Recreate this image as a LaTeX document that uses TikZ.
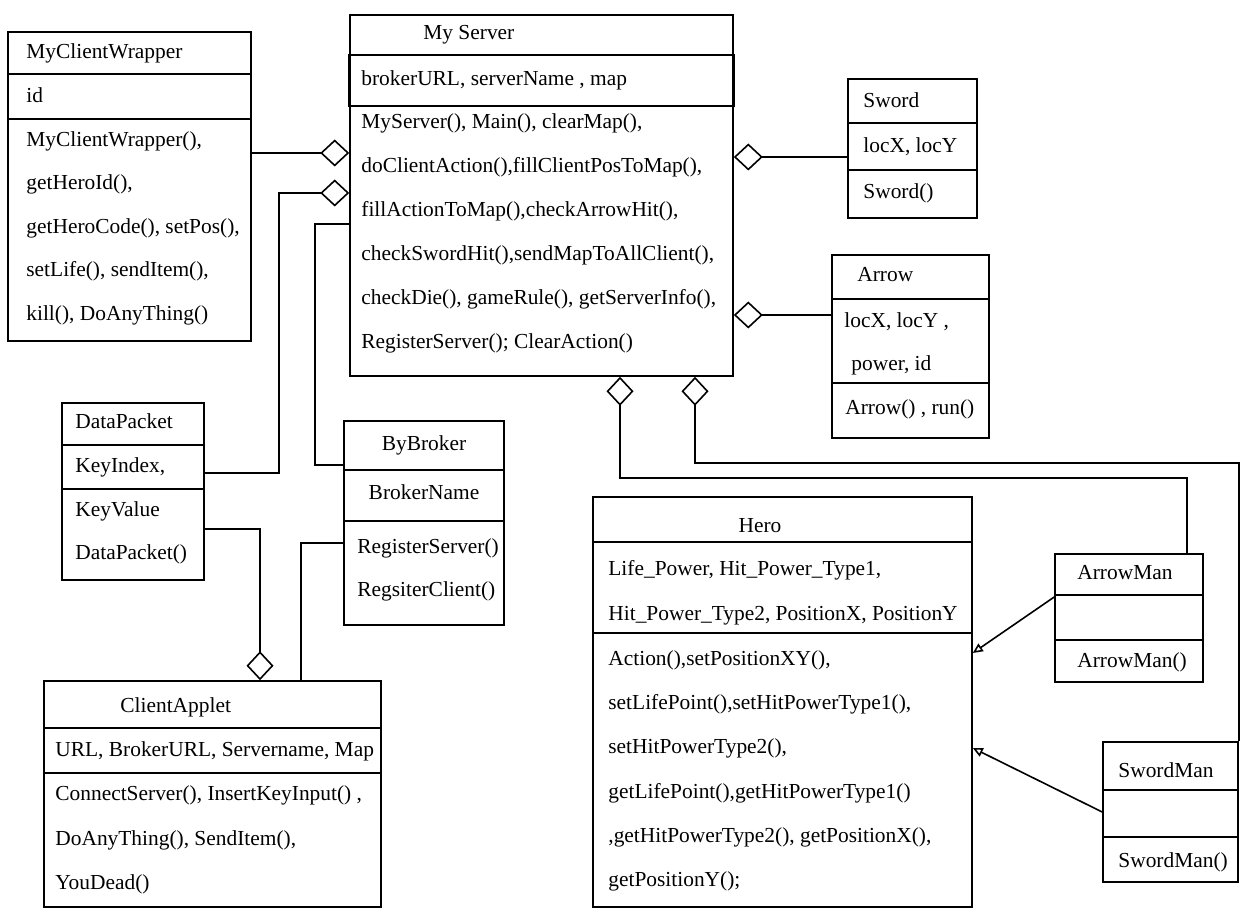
\documentclass[tikz,border=0pt]{standalone}
\usepackage{fontspec}
\setmainfont{Liberation Serif}
\usetikzlibrary{arrows.meta}
\usetikzlibrary{fit}

\begin{document}
\begin{tikzpicture}[x=0.5pt, y=-0.5pt,
cls/.style={draw, line width=0.8pt, inner sep=0pt},
txt/.style={anchor=west, inner sep=0pt, text height=7.5pt, text depth=2pt},
sep/.style={line width=0.8pt},
agg/.style={line width=0.8pt, {Diamond[open,length=14.5pt,width=13.5pt]}-},
gen/.style={line width=0.8pt, -{Triangle[open,length=5pt,width=4.5pt]}},
font=\fontsize{10.7}{12}\selectfont]

\useasboundingbox (0,0) rectangle (1240,908);

% CLASS BOXES
\node[cls, fit={(8,32) (251,341)}] (mcw) {};
\node[cls, fit={(350,15) (733,376)}] (srv) {};
\node[cls, fit={(848,79) (977,218)}] (sw) {};
\node[cls, fit={(832,255) (989,438)}] (ar) {};
\node[cls, fit={(62,403) (204,580)}] (dp) {};
\node[cls, fit={(344,421) (504,625)}] (bb) {};
\node[cls, fit={(44,681) (381,907)}] (ca) {};
\node[cls, fit={(593,497) (972,907)}] (hero) {};
\node[cls, fit={(1055,554) (1203,682)}] (am) {};
\node[cls, fit={(1103,742) (1238,882)}] (sm) {};

% compartments
\foreach \b/\y in {mcw/74, mcw/119, sw/123, sw/170, ar/299, ar/383, dp/445, dp/489,
  bb/470, bb/521, ca/728, ca/773, hero/542, hero/633, am/595, am/640, sm/790, sm/837}{
    \draw[sep] (\b.west |- 0,\y) -- (\b.east |- 0,\y);
}
\draw[line width=1.4pt] (srv.west |- 0,55) rectangle (srv.east |- 0,106);

% MyClientWrapper
\node[txt] (mcwT) at (26,53) {MyClientWrapper};
\node[txt] (mcwA) at (26,97) {id};
\foreach \t [count=\i] in {{MyClientWrapper(),}, {getHeroId(),}, {getHeroCode(), setPos(),},
  {setLife(), sendItem(),}, {kill(), DoAnyThing()}}{
    \node[txt] (mcwM\i) at (26,{141+43.5*(\i-1)}) {\t};
}

% My Server
\node[txt] (srvT) at (423,34) {My Server};
\node[txt] (srvA) at (361,80) {brokerURL, serverName , map};
\foreach \t [count=\i] in {{MyServer(), Main(), clearMap(),}, {doClientAction(),fillClientPosToMap(),},
  {fillActionToMap(),checkArrowHit(),}, {checkSwordHit(),sendMapToAllClient(),},
  {checkDie(), gameRule(), getServerInfo(),}, {RegisterServer(); ClearAction()}}{
    \node[txt] (srvM\i) at (361,{123+44*(\i-1)}) {\t};
}

% Sword, Arrow
\node[txt] (swT) at (863,102) {Sword};
\node[txt] (swA) at (863,147) {locX, locY};
\node[txt] (swM) at (863,193) {Sword()};
\node[txt] (arT) at (857,276) {Arrow};
\node[txt] (arA1) at (844,322) {locX, locY ,};
\node[txt] (arA2) at (851,365) {power, id};
\node[txt] (arM) at (845,409) {Arrow() , run()};

% DataPacket, ByBroker
\node[txt] (dpT) at (75,423) {DataPacket};
\node[txt] (dpA) at (75,467) {KeyIndex,};
\node[txt] (dpM1) at (75,511) {KeyValue};
\node[txt] (dpM2) at (75,554) {DataPacket()};
\node[txt, anchor=center] (bbT) at (bb.north |- 0,445) {ByBroker};
\node[txt, anchor=center] (bbA) at (bb.north |- 0,494) {BrokerName};
\node[txt] (bbM1) at (357,548) {RegisterServer()};
\node[txt] (bbM2) at (357,591) {RegsiterClient()};

% ClientApplet
\node[txt] (caT) at (120,707) {ClientApplet};
\node[txt] (caA) at (55,751) {URL, BrokerURL, Servername, Map};
\foreach \t [count=\i] in {{ConnectServer(), InsertKeyInput() ,}, {DoAnyThing(), SendItem(),}, {YouDead()}}{
    \node[txt] (caM\i) at (55,{795+44.5*(\i-1)}) {\t};
}

% Hero
\node[txt, anchor=center] (heroT) at (760,527) {Hero};
\node[txt] (heroA1) at (608,570) {Life\_Power, Hit\_Power\_Type1,};
\node[txt] (heroA2) at (608,615) {Hit\_Power\_Type2, PositionX, PositionY};
\foreach \t [count=\i] in {{Action(),setPositionXY(),}, {setLifePoint(),setHitPowerType1(),},
  {setHitPowerType2(),}, {getLifePoint(),getHitPowerType1()},
  {,getHitPowerType2(), getPositionX(),}, {getPositionY();}}{
    \node[txt] (heroM\i) at (608,{660+44.2*(\i-1)}) {\t};
}

% ArrowMan, SwordMan
\node[txt] (amT) at (1077,574) {ArrowMan};
\node[txt] (amM) at (1077,662) {ArrowMan()};
\node[txt] (smT) at (1118,772) {SwordMan};
\node[txt] (smM) at (1118,862) {SwordMan()};

% AGGREGATIONS
\draw[agg] (srv.west |- 0,153) -- (mcw.east |- 0,153);
\draw[agg] (srv.west |- 0,193) -- ++(-70,0) |- (dp.east |- 0,473);
\draw[sep] (srv.west |- 0,224) -- ++(-34,0) |- (bb.west |- 0,465);
\draw[agg] (srv.east |- 0,157) -- (sw.west |- 0,157);
\draw[agg] (srv.east |- 0,315) -- (ar.west |- 0,315);
\draw[agg] (srv.south -| 620,0) -- (620,478) -| (am.north -| 1187,0);
\draw[agg] (srv.south -| 695,0) -- (695,463) -| (sm.north east);
\draw[agg] (ca.north -| 260,0) |- (dp.east |- 0,529);
\draw[sep] (ca.north -| 301,0) |- (bb.west |- 0,543);

% GENERALIZATIONS
\draw[gen] (am.west |- 0,597) -- (hero.east |- 0,653);
\draw[gen] (sm.west |- 0,812) -- (hero.east |- 0,748);

\end{tikzpicture}
\end{document}
